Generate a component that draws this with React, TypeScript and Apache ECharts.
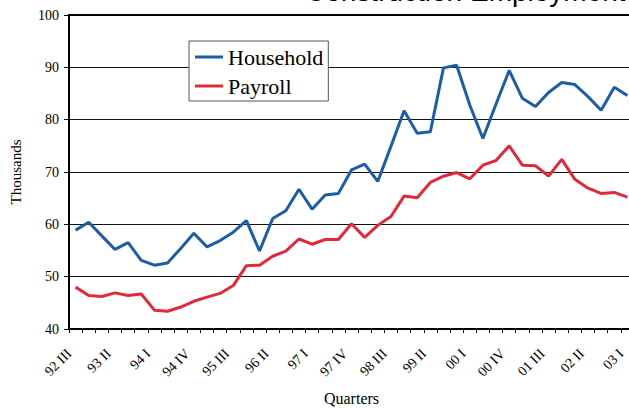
import React, { useEffect, useRef } from "react";
import * as echarts from "echarts";

const quarters = [
  "92 III", "92 IV",
  "93 I", "93 II", "93 III", "93 IV",
  "94 I", "94 II", "94 III", "94 IV",
  "95 I", "95 II", "95 III", "95 IV",
  "96 I", "96 II", "96 III", "96 IV",
  "97 I", "97 II", "97 III", "97 IV",
  "98 I", "98 II", "98 III", "98 IV",
  "99 I", "99 II", "99 III", "99 IV",
  "00 I", "00 II", "00 III", "00 IV",
  "01 I", "01 II", "01 III", "01 IV",
  "02 I", "02 II", "02 III", "02 IV",
  "03 I",
];

const household = [
  58.9, 60.4, 57.8, 55.2, 56.5, 53.1, 52.2, 52.6, 55.4, 58.3,
  55.7, 56.9, 58.5, 60.7, 54.9, 61.1, 62.6, 66.7, 62.9, 65.6,
  65.9, 70.4, 71.5, 68.2, 74.9, 81.7, 77.4, 77.7, 89.9, 90.4,
  82.8, 76.4, 83.0, 89.4, 84.1, 82.5, 85.2, 87.1, 86.7, 84.4,
  81.8, 86.2, 84.6,
];

const payroll = [
  48.0, 46.4, 46.2, 46.9, 46.4, 46.7, 43.6, 43.4, 44.2, 45.3,
  46.1, 46.8, 48.3, 52.1, 52.2, 53.9, 54.9, 57.2, 56.2, 57.1,
  57.1, 60.1, 57.5, 59.8, 61.5, 65.4, 65.1, 68.0, 69.2, 69.9,
  68.7, 71.3, 72.2, 75.0, 71.3, 71.2, 69.2, 72.4, 68.6, 66.9,
  65.9, 66.1, 65.2,
];

const titleText = "Construction Employment";
const yAxisName = "Thousands";
const xAxisName = "Quarters";
const serif = "Liberation Serif";

export default function App() {
  const ref = useRef<HTMLDivElement>(null);

  useEffect(() => {
    if (!ref.current) return;
    const chart = echarts.init(ref.current, undefined, { renderer: "svg" });
    const labelStyle = {
      fontFamily: serif,
      fontSize: 14,
      fontWeight: "normal" as const,
      color: "#000",
    };
    chart.setOption({
      animation: false,
      backgroundColor: "#ffffff",
      textStyle: { fontFamily: serif },
      graphic: [
        {
          type: "text",
          left: 305,
          top: -23,
          style: {
            text: titleText,
            fontSize: 28,
            fontFamily: "Liberation Sans",
            fill: "#000",
          },
        },
      ],
      legend: {
        orient: "vertical",
        left: 189,
        top: 41,
        padding: [5, 5, 4, 6],
        itemGap: 7,
        itemWidth: 28,
        itemHeight: 3,
        icon: "rect",
        borderColor: "#555",
        borderWidth: 1,
        backgroundColor: "#fff",
        textStyle: {
          fontFamily: serif,
          fontSize: 22,
          color: "#000",
        },
        data: ["Household", "Payroll"],
      },
      grid: {
        left: 69,
        top: 15,
        width: 565,
        height: 314,
        containLabel: false,
        outerBoundsMode: "none",
      },
      xAxis: [
        {
          type: "category",
          data: quarters,
          boundaryGap: true,
          name: xAxisName,
          nameLocation: "middle",
          nameGap: 61,
          nameMoveOverlap: false,
          nameTextStyle: { fontFamily: serif, fontSize: 16, color: "#000" },
          axisLine: { lineStyle: { color: "#000", width: 2 } },
          axisTick: { show: true, interval: 0, length: 4, lineStyle: { color: "#000" } },
          axisLabel: {
            interval: 2,
            rotate: 45,
            margin: 16,
            padding: [0, 9, 0, 0],
            ...labelStyle,
            rich: { a: labelStyle },
            formatter: (v: string) => "{a|" + v + "}",
          },
          splitLine: { show: false },
        },
        {
          type: "category",
          data: quarters,
          position: "top",
          axisLine: { lineStyle: { color: "#000", width: 2 } },
          axisTick: { show: false },
          axisLabel: { show: false },
          splitLine: { show: false },
        },
      ],
      yAxis: {
        type: "value",
        min: 40,
        max: 100,
        interval: 10,
        name: yAxisName,
        nameLocation: "middle",
        nameGap: 46,
        nameMoveOverlap: false,
        nameTextStyle: { fontFamily: serif, fontSize: 15, color: "#000" },
        axisLine: { show: true, lineStyle: { color: "#000", width: 2 } },
        axisTick: { show: true, length: 5, lineStyle: { color: "#000" } },
        axisLabel: {
          margin: 10,
          ...labelStyle,
          rich: { a: labelStyle },
          formatter: (v: number) => "{a|" + v + "}",
        },
        splitLine: { show: true, lineStyle: { color: "#111", width: 1 } },
      },
      series: [
        {
          name: "Household",
          type: "line",
          data: household,
          symbol: "none",
          lineStyle: { color: "#1D5DA3", width: 3 },
          itemStyle: { color: "#1D5DA3" },
        },
        {
          name: "Payroll",
          type: "line",
          data: payroll,
          symbol: "none",
          lineStyle: { color: "#DE2A3B", width: 3 },
          itemStyle: { color: "#DE2A3B" },
        },
      ],
    });
    return () => chart.dispose();
  }, []);

  return (
    <div
      ref={ref}
      style={{ position: "fixed", left: 0, top: 0, width: 629, height: 409 }}
    />
  );
}
